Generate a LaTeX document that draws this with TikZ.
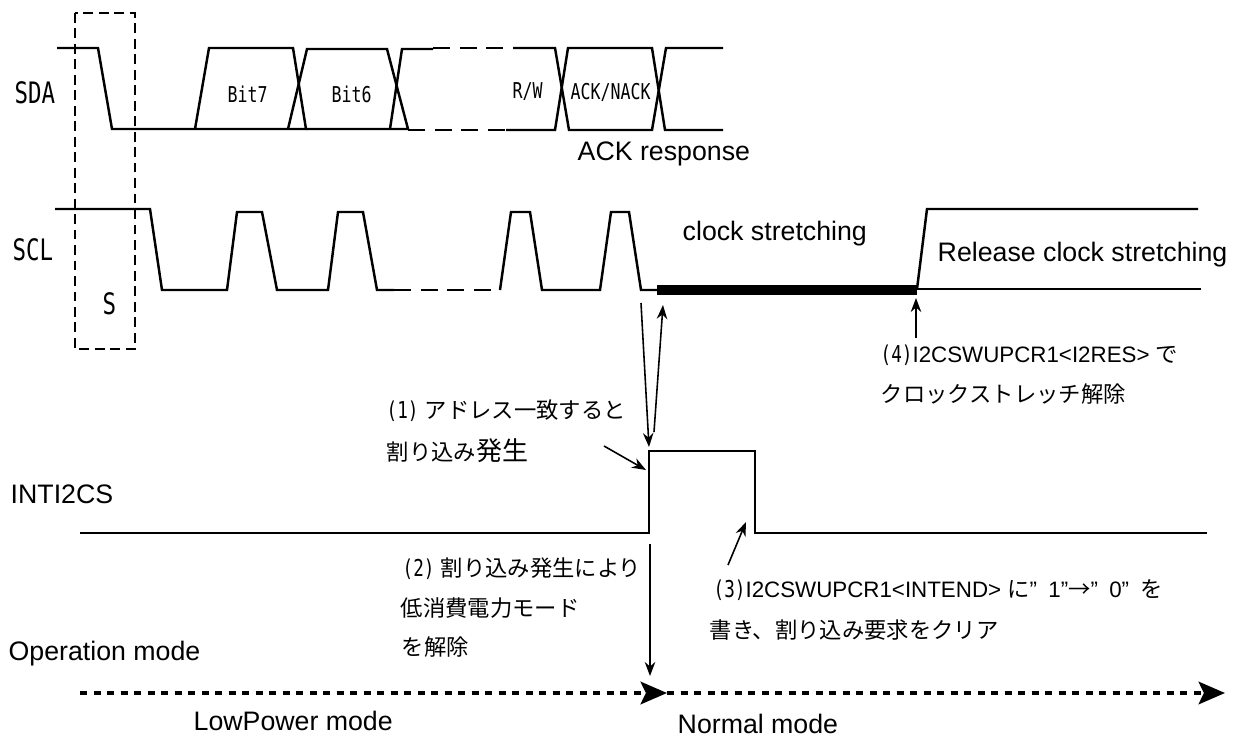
\documentclass[tikz,border=0pt]{standalone}
\usepackage{fontspec}
\usepackage{tikz}
\usetikzlibrary{arrows.meta}
\setmainfont{Liberation Sans}
\newfontfamily\jpfont{Noto Sans CJK JP}
\newfontfamily\narrowfont[FakeStretch=0.76]{DejaVu Sans Mono}
\newcommand{\jp}[1]{{\jpfont #1}}
\newcommand{\nw}[1]{{\narrowfont\fontsize{6.6}{8}\selectfont #1}}
\tikzset{
  wave/.style={line width=0.7pt, line join=miter},
  gap/.style={line width=0.7pt, dash pattern=on 4.8pt off 2.8pt},
  note/.style={-{Stealth[length=4pt,width=3pt]}, line width=0.45pt},
  mode/.style={line width=1.1pt, dash pattern=on 2pt off 1.84pt, -{Stealth[length=7.5pt,width=6.4pt,inset=1.5pt]}},
  lbl/.style={anchor=base west, inner sep=0pt, font=\fontsize{7.6}{9}\selectfont},
  jplbl/.style={anchor=base west, inner sep=0pt, font=\fontsize{6.35}{8}\selectfont},
  sig/.style={anchor=base west, inner sep=0pt, font=\narrowfont\fontsize{8.4}{10}\selectfont},
  bitlbl/.style={anchor=base west, inner sep=0pt, font=\narrowfont\fontsize{6.2}{8}\selectfont},
}
\begin{document}
\begin{tikzpicture}[x=0.01cm, y=-0.01cm]
  \useasboundingbox (0,0) rectangle (1239,736);
  % start condition box
  \draw[line width=0.7pt, dash pattern=on 2.8pt off 1.6pt] (75,13) rectangle (135,349);
  % SDA
  \draw[wave] (57,48) -- (98,48) -- (112,129) -- (306,129) -- (293,48) -- (209,48) -- (195,129);
  \draw[wave] (288,129) -- (307,49) -- (387,49) -- (408,129) -- (306,129);
  \draw[wave] (390,129) -- (402,49) -- (433,49);
  \draw[gap] (433,48) -- (513,48);
  \draw[gap] (408,130) -- (506,130);
  \draw[wave] (513,48) -- (555,48) -- (569,130) -- (652,130) -- (666,48) -- (723,48);
  \draw[wave] (506,130) -- (555,130) -- (568,48) -- (652,48) -- (665,130) -- (723,130);
  % SCL
  \draw[wave] (55,209) -- (150,209) -- (162,290) -- (227,290) -- (237,212) -- (262,212) -- (277,290)
    -- (328,290) -- (338,212) -- (363,212) -- (377,290) -- (394,290);
  \draw[gap] (394,290) -- (500,290);
  \draw[wave] (500,290) -- (511,212) -- (530,212) -- (542,290) -- (600,290) -- (611,212) -- (629,212)
    -- (641,290) -- (657,290);
  \draw[line width=3.1pt] (657,290) -- (917,290);
  \draw[wave] (917,289) -- (1201,289);
  \draw[wave] (917,289) -- (927,209) -- (1198,209);
  % INTI2CS
  \draw[wave] (80,533) -- (649,533) -- (649,451) -- (755,451) -- (755,533) -- (1207,533);
  % operation mode
  \coordinate (modeA) at (80,693);
  \coordinate (modeB) at (667,693);
  \coordinate (modeC) at (1225,693);
  \draw[mode] (modeA) -- (modeB);
  \draw[mode] (modeB) -- (modeC);
  % notes
  \draw[note] (641,303) -- (649,447);
  \draw[note] (654,432) -- (663,305);
  \draw[note] (604,446) -- (646,470);
  \draw[note] (650,544) -- (650,676);
  \draw[note] (728,565) -- (746,522);
  \draw[note] (916,338) -- (916,298);
  % labels
  \node[sig] (sda) at (14,103) {SDA};
  \node[sig] (scl) at (12,260) {SCL};
  \node[sig] (start) at (102,314) {S};
  \node[bitlbl] (bit7) at (227,102) {Bit7};
  \node[bitlbl] (bit6) at (331,102) {Bit6};
  \node[bitlbl] (rw) at (512,98) {R/W};
  \node[bitlbl] (ack) at (570,99) {ACK/NACK};
  \node[lbl] (ackresp) at (577,160) {ACK response};
  \node[lbl] (stretch) at (682,240) {clock stretching};
  \node[lbl] (release) at (937,261) {Release clock stretching};
  \node[lbl] (inti) at (10,503) {INTI2CS};
  \node[lbl] (opmode) at (8,660) {Operation mode};
  \node[lbl] (lowp) at (193,730) {LowPower mode};
  \node[lbl] (normal) at (677,733) {Normal mode};
  \node[jplbl] (n1a) at (386,418) {\nw{(1)} \jp{アドレス一致すると}};
  \node[jplbl] (n1b) at (386,460) {\jp{割り込み{\fontsize{7.4}{9}\selectfont 発生}}};
  \node[jplbl] (n2a) at (402,576) {\nw{(2)} \jp{割り込み発生により}};
  \node[jplbl] (n2b) at (400,616) {\jp{低消費電力モード}};
  \node[jplbl] (n2c) at (401,655) {\jp{を解除}};
  \node[jplbl] (n3a) at (713,597) {\nw{(3)}I2CSWUPCR1<INTEND> \jp{に}”\hspace{3.2pt}1”\jp{→}”\hspace{3.2pt}0”\hspace{3.2pt}\jp{を}};
  \node[jplbl] (n3b) at (709,638) {\jp{書き、割り込み要求をクリア}};
  \node[jplbl] (n4a) at (880,362) {\nw{(4)}I2CSWUPCR1<I2RES> \jp{で}};
  \node[jplbl] (n4b) at (880,402) {\jp{クロックストレッチ解除}};
\end{tikzpicture}
\end{document}
